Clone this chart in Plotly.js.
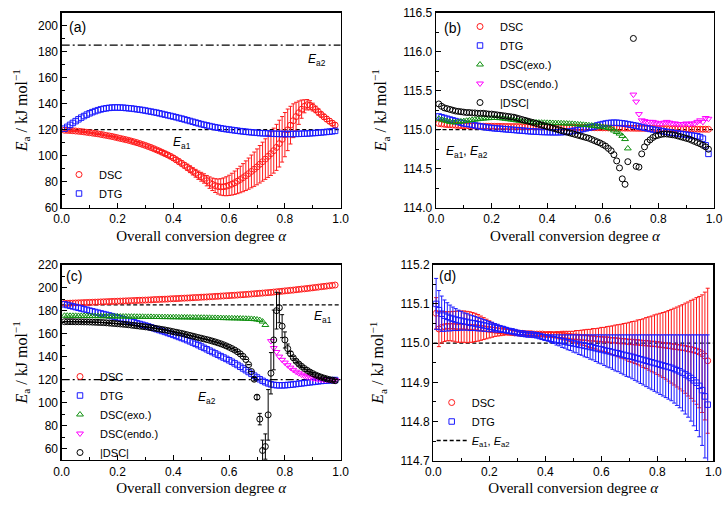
<!DOCTYPE html>
<html><head><meta charset="utf-8">
<script src="https://cdn.plot.ly/plotly-3.0.1.min.js"></script>
<style>html,body{margin:0;padding:0;background:#fff}#chart{width:727px;height:508px}</style>
</head><body><div id="chart"></div>
<script>
// ---------- DATA ----------
const alpha = [0.01,0.02,0.03,0.04,0.05,0.06,0.07,0.08,0.09,0.10,
0.11,0.12,0.13,0.14,0.15,0.16,0.17,0.18,0.19,0.20,
0.21,0.22,0.23,0.24,0.25,0.26,0.27,0.28,0.29,0.30,
0.31,0.32,0.33,0.34,0.35,0.36,0.37,0.38,0.39,0.40,
0.41,0.42,0.43,0.44,0.45,0.46,0.47,0.48,0.49,0.50,
0.51,0.52,0.53,0.54,0.55,0.56,0.57,0.58,0.59,0.60,
0.61,0.62,0.63,0.64,0.65,0.66,0.67,0.68,0.69,0.70,
0.71,0.72,0.73,0.74,0.75,0.76,0.77,0.78,0.79,0.80,
0.81,0.82,0.83,0.84,0.85,0.86,0.87,0.88,0.89,0.90,
0.91,0.92,0.93,0.94,0.95,0.96,0.97,0.98];
const lineX = [0, 1];

// panel (a)
const a_DSC = [119.6,119.5,119.4,119.2,119.0,118.8,118.6,118.3,118.0,117.7,
117.4,117.1,116.8,116.4,116.0,115.6,115.2,114.8,114.3,113.8,
113.3,112.8,112.3,111.8,111.2,110.6,110.0,109.3,108.6,107.9,
107.1,106.3,105.4,104.5,103.6,102.6,101.6,100.6,99.5,98.3,
96.9,95.5,94.1,92.6,91.1,89.6,88.0,86.5,85.0,83.8,
82.5,80.8,79.3,78.0,77.0,76.3,76.0,76.1,76.5,77.2,
78.1,79.2,80.4,81.7,83.1,84.6,86.2,87.9,89.6,91.4,
93.4,95.4,97.4,99.5,101.6,103.9,106.4,109.3,112.6,116.2,
119.9,123.5,126.9,130.1,133.1,135.8,138.0,139.2,138.8,137.4,
135.6,133.6,131.7,129.9,128.2,126.6,125.0,123.5];
const a_DSC_err = [0.5,0.5,0.5,0.5,0.5,0.5,0.5,0.5,0.5,0.5,
0.5,0.5,0.5,0.5,0.5,0.5,0.5,0.5,0.5,0.5,
0.6,0.6,0.7,0.7,0.8,0.8,0.9,0.9,1.0,1.0,
1.1,1.1,1.2,1.2,1.3,1.4,1.5,1.6,1.7,1.8,
1.9,2.0,2.1,2.2,2.4,2.6,2.8,3.0,3.2,3.4,
3.6,4.0,4.4,4.8,5.3,5.8,6.3,6.8,7.3,7.8,
8.4,9.0,9.6,10.2,10.8,11.4,12.0,12.6,13.2,13.8,
14.4,15.0,15.6,16.2,16.8,17.3,17.7,18.0,17.5,17.0,
16.0,14.5,13.0,11.0,9.0,7.0,5.0,4.0,3.5,3.0,
2.5,2.5,2.0,2.0,2.0,2.0,2.0,2.0];
const a_DTG = [120.8,122.2,123.7,125.2,126.6,128.0,129.3,130.5,131.6,132.6,
133.5,134.3,135.0,135.6,136.1,136.5,136.8,137.0,137.1,137.1,
137.0,136.9,136.7,136.5,136.3,136.0,135.7,135.4,135.1,134.7,
134.3,133.9,133.5,133.1,132.6,132.1,131.6,131.1,130.6,130.1,
129.6,129.0,128.5,127.9,127.3,126.7,126.1,125.5,124.9,124.3,
123.8,123.3,122.8,122.3,121.9,121.5,121.1,120.7,120.4,120.1,
119.8,119.5,119.2,118.9,118.7,118.4,118.2,118.0,117.8,117.6,
117.4,117.3,117.2,117.1,117.0,116.9,116.8,116.8,116.7,116.7,
116.7,116.7,116.7,116.8,116.8,116.9,117.0,117.1,117.2,117.4,
117.5,117.7,117.9,118.1,118.3,118.5,118.8,119.1];
const a_Ea1 = 120, a_Ea2 = 185;

// panel (b)
const b_DSC = [115.080,115.075,115.070,115.066,115.063,115.060,115.058,115.055,115.053,115.051,
115.050,115.049,115.048,115.047,115.047,115.046,115.045,115.045,115.044,115.044,
115.043,115.043,115.042,115.042,115.041,115.041,115.040,115.040,115.040,115.039,
115.039,115.038,115.038,115.037,115.037,115.036,115.036,115.035,115.035,115.034,
115.034,115.033,115.033,115.032,115.032,115.031,115.031,115.030,115.030,115.029,
115.029,115.028,115.028,115.027,115.027,115.026,115.026,115.025,115.025,115.024,
115.024,115.023,115.023,115.022,115.022,115.021,115.021,115.020,115.020,115.019,
115.019,115.018,115.018,115.017,115.017,115.016,115.016,115.015,115.015,115.014,
115.014,115.013,115.013,115.012,115.012,115.011,115.011,115.010,115.010,115.009,
115.009,115.008,115.008,115.007,115.007,115.006,115.006,115.005];
const b_DTG = [115.170,115.160,115.150,115.140,115.130,115.120,115.110,115.100,115.090,115.080,
115.075,115.070,115.062,115.055,115.048,115.042,115.036,115.030,115.026,115.022,
115.018,115.015,115.012,115.009,115.006,115.003,115.000,114.997,114.994,114.991,
114.988,114.985,114.982,114.979,114.977,114.975,114.973,114.971,114.970,114.969,
114.968,114.967,114.967,114.967,114.968,114.970,114.973,114.977,114.982,114.988,
114.995,115.002,115.010,115.018,115.026,115.034,115.042,115.055,115.064,115.072,
115.079,115.085,115.088,115.090,115.089,115.086,115.082,115.077,115.071,115.064,
115.057,115.050,115.042,115.034,115.026,115.018,115.010,115.003,114.996,114.990,
114.984,114.978,114.972,114.966,114.961,114.956,114.951,114.946,114.941,114.936,
114.931,114.926,114.921,114.916,114.905,114.885,114.800,114.690];
const b_exo_alpha = alpha.slice(0, 69);
const b_exo = [115.140,115.130,115.120,115.110,115.100,115.095,115.095,115.100,115.105,115.110,
115.115,115.120,115.125,115.130,115.135,115.140,115.143,115.146,115.148,115.150,
115.150,115.150,115.148,115.145,115.140,115.135,115.130,115.125,115.120,115.115,
115.110,115.105,115.100,115.097,115.095,115.093,115.091,115.090,115.089,115.088,
115.087,115.086,115.085,115.084,115.083,115.081,115.079,115.077,115.075,115.072,
115.069,115.066,115.063,115.060,115.057,115.053,115.049,115.045,115.040,115.035,
115.029,115.022,115.014,114.990,114.970,114.950,114.920,114.880,114.760];
const b_endo_alpha = alpha.slice(70);
const b_endo = [115.45,115.36,115.20,115.12,115.11,115.10,115.10,115.10,115.09,115.08,
115.08,115.09,115.10,115.09,115.08,115.08,115.07,115.07,115.07,115.08,
115.07,115.08,115.08,115.10,115.12,115.10,115.15,115.14];
const b_abs = [115.33,115.30,115.28,115.27,115.26,115.25,115.24,115.235,115.23,115.225,
115.22,115.22,115.215,115.215,115.21,115.21,115.21,115.205,115.20,115.20,
115.195,115.19,115.185,115.18,115.175,115.17,115.165,115.16,115.15,115.14,
115.13,115.12,115.11,115.10,115.09,115.08,115.07,115.06,115.05,115.04,
115.03,115.02,115.01,115.00,114.99,114.98,114.97,114.96,114.95,114.94,
114.93,114.92,114.91,114.90,114.89,114.875,114.86,114.845,114.83,114.81,
114.79,114.76,114.73,114.68,114.60,114.51,114.37,114.30,114.59,null,
116.17,114.53,114.52,114.69,114.78,114.84,114.87,114.90,114.92,114.93,
114.94,114.945,114.945,114.94,114.935,114.93,114.92,114.91,114.90,114.89,
114.88,114.865,114.85,114.835,114.82,114.80,114.78,114.75];
const b_Ea = 115.0;

// panel (c)
const c_DSC = [186.3,186.4,186.5,186.6,186.7,186.8,186.9,187.0,187.1,187.2,
187.3,187.4,187.5,187.6,187.7,187.8,187.9,188.0,188.1,188.2,
188.3,188.4,188.5,188.6,188.7,188.8,188.9,189.0,189.1,189.2,
189.3,189.4,189.6,189.7,189.8,189.9,190.0,190.1,190.3,190.4,
190.5,190.6,190.8,190.9,191.0,191.1,191.3,191.4,191.5,191.7,
191.8,191.9,192.1,192.2,192.4,192.5,192.7,192.8,193.0,193.1,
193.3,193.4,193.6,193.8,193.9,194.1,194.3,194.5,194.7,194.9,
195.1,195.3,195.5,195.7,195.9,196.2,196.4,196.7,196.9,197.2,
197.4,197.7,197.9,198.2,198.5,198.8,199.0,199.3,199.6,199.9,
200.2,200.5,200.8,201.1,201.4,201.7,202.0,202.3];
const c_DTG = [185.5,184.9,184.3,183.7,183.1,182.5,181.9,181.3,180.7,180.0,
179.4,178.8,178.2,177.6,177.0,176.4,175.8,175.2,174.6,174.0,
173.3,172.6,171.9,171.2,170.5,169.8,169.1,168.4,167.7,167.0,
166.3,165.5,164.7,163.9,163.1,162.3,161.5,160.6,159.8,158.9,
158.0,157.1,156.2,155.3,154.3,153.3,152.2,151.1,150.0,148.8,
147.6,146.4,145.2,144.0,142.8,141.6,140.4,139.2,138.0,136.8,
135.5,134.1,132.7,131.2,129.7,128.2,126.6,125.0,123.4,121.8,
120.3,118.9,117.7,116.7,115.9,115.4,115.1,115.0,115.0,115.1,
115.3,115.5,115.8,116.1,116.4,116.7,117.0,117.3,117.6,117.9,
118.2,118.5,118.8,119.0,119.2,119.4,119.5,119.6];
const c_exo_alpha = alpha.slice(0, 73);
const c_exo = [175.6,175.6,175.5,175.5,175.5,175.4,175.4,175.4,175.3,175.3,
175.3,175.2,175.2,175.2,175.1,175.1,175.1,175.0,175.0,175.0,
174.9,174.9,174.9,174.8,174.8,174.8,174.7,174.7,174.7,174.6,
174.6,174.6,174.5,174.5,174.5,174.4,174.4,174.4,174.3,174.3,
174.3,174.2,174.2,174.2,174.1,174.1,174.0,174.0,174.0,173.9,
173.9,173.8,173.8,173.7,173.7,173.6,173.6,173.5,173.5,173.4,
173.4,173.3,173.3,173.2,173.1,173.0,172.9,172.8,172.6,172.3,
171.8,170.5,167.5];
const c_endo_alpha = alpha.slice(74);
const c_endo = [153.5,147.5,144.0,140.0,137.2,134.8,132.5,130.4,128.5,126.9,
125.5,124.3,123.3,122.5,121.8,121.2,120.7,120.3,120.0,119.8,
119.7,119.6,119.5,119.5];
const c_abs = [170.4,170.4,170.4,170.4,170.3,170.3,170.3,170.2,170.2,170.1,
170.0,169.9,169.8,169.7,169.6,169.4,169.2,169.0,168.8,168.6,
168.4,168.2,168.0,167.7,167.4,167.1,166.8,166.5,166.2,165.9,
165.6,165.2,164.8,164.4,164.0,163.6,163.2,162.7,162.2,161.7,
161.2,160.7,160.2,159.6,159.0,158.4,157.8,157.2,156.6,156.0,
155.4,154.8,154.2,153.5,152.8,152.0,151.2,150.3,149.3,148.2,
147.0,145.7,144.2,142.4,140.2,137.5,133.0,127.0,120.3,104.7,
85.6,58.3,61.7,89.3,125.5,154.5,180.0,182.5,166.5,154.5,
147.0,142.5,139.0,136.0,133.5,131.5,129.6,128.0,126.5,125.2,
124.0,123.0,122.1,121.3,120.6,120.0,119.5,119.0];
const c_abs_err = [0,0,0,0,0,0,0,0,0,0,
0,0,0,0,0,0,0,0,0,0,
0,0,0,0,0,0,0,0,0,0,
0,0,0,0,0,0,0,0,0,0,
0,0,0,0,0,0,0,0,0,0,
0,0,0,0,0,0,0,0,0,0,
0,0,0,0,0,0,0,0,1.5,2,
5,9,11,22,18,26,16,13,10,7,
4,2,1,1,1,1,1,1,1,1,
1,1,1,1,1,1,1,1];
const c_Ea1 = 185, c_Ea2 = 120;

// panel (d)
const d_DSC = [115.076,115.036,115.040,115.042,115.043,115.043,115.043,115.042,115.042,115.042,
115.042,115.041,115.041,115.040,115.040,115.039,115.038,115.037,115.036,115.035,
115.034,115.033,115.032,115.031,115.030,115.029,115.028,115.027,115.026,115.026,
115.025,115.025,115.024,115.024,115.024,115.023,115.023,115.023,115.023,115.022,
115.022,115.022,115.021,115.021,115.020,115.020,115.019,115.018,115.017,115.016,
115.016,115.015,115.014,115.014,115.013,115.012,115.012,115.011,115.010,115.010,
115.009,115.009,115.008,115.007,115.007,115.006,115.005,115.005,115.004,115.003,
115.003,115.002,115.002,115.001,115.000,115.000,114.999,114.998,114.998,114.997,
114.996,114.995,114.994,114.993,114.992,114.991,114.990,114.989,114.988,114.987,
114.985,114.984,114.982,114.980,114.977,114.973,114.967,114.955];
const d_DSC_err = [0.040,0.045,0.040,0.038,0.037,0.037,0.038,0.039,0.040,0.040,
0.040,0.040,0.039,0.038,0.036,0.034,0.031,0.028,0.025,0.022,
0.019,0.016,0.014,0.012,0.010,0.008,0.007,0.006,0.005,0.004,
0.004,0.003,0.003,0.003,0.003,0.003,0.003,0.004,0.004,0.005,
0.006,0.006,0.007,0.008,0.009,0.010,0.011,0.012,0.013,0.014,
0.016,0.017,0.019,0.020,0.022,0.023,0.025,0.026,0.028,0.030,
0.031,0.033,0.035,0.037,0.039,0.041,0.043,0.045,0.047,0.050,
0.052,0.054,0.057,0.059,0.062,0.065,0.068,0.071,0.074,0.077,
0.080,0.083,0.086,0.090,0.094,0.098,0.102,0.106,0.110,0.115,
0.120,0.125,0.130,0.136,0.142,0.150,0.163,0.185];
const d_DTG = [115.100,115.084,115.075,115.070,115.067,115.064,115.062,115.060,115.058,115.057,
115.055,115.054,115.052,115.051,115.050,115.048,115.047,115.045,115.044,115.042,
115.041,115.039,115.038,115.036,115.035,115.033,115.031,115.030,115.028,115.026,
115.025,115.024,115.023,115.022,115.022,115.021,115.020,115.018,115.016,115.014,
115.013,115.011,115.010,115.008,115.007,115.005,115.004,115.002,115.001,114.999,
114.998,114.996,114.995,114.993,114.992,114.990,114.989,114.987,114.985,114.984,
114.982,114.980,114.979,114.977,114.975,114.974,114.972,114.970,114.968,114.967,
114.965,114.963,114.961,114.959,114.957,114.955,114.953,114.951,114.949,114.947,
114.945,114.943,114.941,114.939,114.937,114.934,114.931,114.928,114.924,114.920,
114.916,114.911,114.905,114.899,114.891,114.880,114.864,114.843];
const d_DTG_err = [0.065,0.050,0.045,0.040,0.036,0.033,0.030,0.028,0.026,0.024,
0.022,0.021,0.020,0.019,0.018,0.017,0.016,0.015,0.014,0.013,
0.012,0.011,0.010,0.009,0.008,0.007,0.006,0.005,0.004,0.004,
0.003,0.003,0.003,0.003,0.003,0.003,0.004,0.005,0.006,0.007,
0.008,0.010,0.011,0.013,0.014,0.016,0.017,0.019,0.020,0.022,
0.023,0.025,0.026,0.028,0.029,0.031,0.032,0.034,0.036,0.037,
0.039,0.041,0.042,0.044,0.046,0.047,0.049,0.051,0.053,0.054,
0.056,0.058,0.060,0.062,0.064,0.066,0.068,0.070,0.072,0.074,
0.076,0.078,0.080,0.082,0.084,0.087,0.090,0.093,0.097,0.101,
0.105,0.110,0.116,0.122,0.130,0.141,0.157,0.178];
const d_Ea = 115.0;

// ---------- STYLE ----------
const RED = '#ff1a1a', BLUE = '#1a1aff', GREEN = '#109010', MAG = '#ff00ff', BLK = '#000000';
const SANS = 'Arial, "Liberation Sans", sans-serif';
const SERIF = '"Times New Roman", "Liberation Serif", serif';
const EaName = '<i>E</i><sub>a1</sub>, <i>E</i><sub>a2</sub>';

function pts(x, y, name, color, symbol, xa, ya, leg, err) {
  const t = {type:'scatter', mode:'markers', x:x, y:y, name:name, xaxis:xa, yaxis:ya, legend:leg,
    marker:{symbol:symbol, size:(symbol.indexOf('square')===0?5.5:6), color:color, line:{width:1, color:color}},
    cliponaxis:true};
  if (err) t.error_y = {type:'data', array:err, visible:true, color:color, thickness:1, width:2};
  return t;
}
function hline(yv, dash, xa, ya, leg, show, name) {
  return {type:'scatter', mode:'lines', x:lineX, y:[yv, yv], xaxis:xa, yaxis:ya, legend:leg,
    showlegend:!!show, name:name||'', line:{color:'#000', width:1.3, dash:dash}};
}
const DASH = '4px,2.5px', DASHDOT = '8px,3px,2px,3px';

const traces = [
  hline(a_Ea1, DASH, 'x', 'y', 'legend'),
  hline(a_Ea2, DASHDOT, 'x', 'y', 'legend'),
  pts(alpha, a_DSC, 'DSC', RED, 'circle-open', 'x', 'y', 'legend', a_DSC_err),
  pts(alpha, a_DTG, 'DTG', BLUE, 'square-open', 'x', 'y', 'legend'),

  hline(b_Ea, DASH, 'x2', 'y2', 'legend2'),
  pts(alpha, b_DSC, 'DSC', RED, 'circle-open', 'x2', 'y2', 'legend2'),
  pts(alpha, b_DTG, 'DTG', BLUE, 'square-open', 'x2', 'y2', 'legend2'),
  pts(b_exo_alpha, b_exo, 'DSC(exo.)', GREEN, 'triangle-up-open', 'x2', 'y2', 'legend2'),
  pts(b_endo_alpha, b_endo, 'DSC(endo.)', MAG, 'triangle-down-open', 'x2', 'y2', 'legend2'),
  pts(alpha, b_abs, '|DSC|', BLK, 'circle-open', 'x2', 'y2', 'legend2'),

  hline(c_Ea1, DASH, 'x3', 'y3', 'legend3'),
  hline(c_Ea2, DASHDOT, 'x3', 'y3', 'legend3'),
  pts(alpha, c_DSC, 'DSC', RED, 'circle-open', 'x3', 'y3', 'legend3'),
  pts(alpha, c_DTG, 'DTG', BLUE, 'square-open', 'x3', 'y3', 'legend3'),
  pts(c_exo_alpha, c_exo, 'DSC(exo.)', GREEN, 'triangle-up-open', 'x3', 'y3', 'legend3'),
  pts(c_endo_alpha, c_endo, 'DSC(endo.)', MAG, 'triangle-down-open', 'x3', 'y3', 'legend3'),
  pts(alpha, c_abs, '|DSC|', BLK, 'circle-open', 'x3', 'y3', 'legend3', c_abs_err),

  Object.assign(hline(d_Ea, DASH, 'x4', 'y4', 'legend4', true, EaName), {legendrank:3000}),
  Object.assign(pts(alpha, d_DSC, 'DSC', RED, 'circle-open', 'x4', 'y4', 'legend4', d_DSC_err), {legendrank:1000}),
  Object.assign(pts(alpha, d_DTG, 'DTG', BLUE, 'square-open', 'x4', 'y4', 'legend4', d_DTG_err), {legendrank:2000})
];

const W = 727, H = 508;
function xd(l, r) { return [l / W, r / W]; }
function yd(t, b) { return [1 - b / H, 1 - t / H]; }

function xax(domain, anchor, tstand) {
  return {domain:domain, anchor:anchor, range:[0, 1], tick0:0, dtick:0.2, tickformat:'.1f',
    ticks:'inside', ticklen:5, tickwidth:1, tickcolor:'#000',
    minor:{ticks:'inside', ticklen:3, dtick:0.1, tickwidth:1, tickcolor:'#000', showgrid:false},
    showline:true, mirror:true, linecolor:'#000', linewidth:1.3, showgrid:false, zeroline:false,
    tickfont:{family:SANS, size:12, color:'#000'},
    title:{text:'Overall conversion degree <i>α</i>', font:{family:SERIF, size:15, color:'#000'}, standoff:tstand}};
}
function yax(domain, anchor, range, dtick, mdtick, fmt, tstand) {
  return {domain:domain, anchor:anchor, range:range, tick0:0, dtick:dtick, tickformat:fmt,
    ticks:'inside', ticklen:5, tickwidth:1, tickcolor:'#000',
    minor:{ticks:'inside', ticklen:3, dtick:mdtick, tickwidth:1, tickcolor:'#000', showgrid:false},
    showline:true, mirror:true, linecolor:'#000', linewidth:1.3, showgrid:false, zeroline:false,
    tickfont:{family:SANS, size:12, color:'#000'},
    title:{text:'<i>E</i><sub>a</sub> / kJ mol<sup>−1</sup>', font:{family:SERIF, size:16, color:'#000'}, standoff:tstand}};
}
function legendAt(xpx, ypx) {
  return {x:xpx / W, y:1 - ypx / H, xanchor:'left', yanchor:'top', bgcolor:'rgba(0,0,0,0)',
    borderwidth:0, font:{family:SANS, size:11, color:'#000'}, tracegroupgap:0, itemwidth:30};
}
function ann(xr, yr, x, y, text, size, anchor) {
  return {xref:xr, yref:yr, x:x, y:y, text:text, showarrow:false, xanchor:anchor||'center', yanchor:'middle',
    font:{family:SANS, size:size, color:'#000'}};
}
const Ea1 = '<i>E</i><sub>a1</sub>', Ea2 = '<i>E</i><sub>a2</sub>';

const layout = {
  width:W, height:H, margin:{l:0, r:0, t:0, b:0}, paper_bgcolor:'#fff', plot_bgcolor:'#fff',
  showlegend:true, hovermode:false,
  xaxis: xax(xd(61.7, 340.7), 'y', 5),
  yaxis: yax(yd(12.7, 207.7), 'x', [60, 210], 20, 10, 'd', 6),
  xaxis2: xax(xd(436, 714), 'y2', 5),
  yaxis2: yax(yd(12.7, 207.7), 'x2', [114, 116.5], 0.5, 0.25, '.1f', 12),
  xaxis3: xax(xd(61.7, 340.7), 'y3', 4),
  yaxis3: yax(yd(264.7, 460), 'x3', [50, 220], 20, 10, 'd', 6),
  xaxis4: xax(xd(433.3, 713.3), 'y4', 4),
  yaxis4: yax(yd(264.7, 460.7), 'x4', [114.7, 115.2], 0.1, 0.05, '.1f', 12),
  legend: legendAt(59, 160),
  legend2: legendAt(460, 12),
  legend3: legendAt(60, 362),
  legend4: legendAt(431.7, 388),
  annotations: [
    ann('x', 'y', 0.018, 199, '(a)', 14, 'left'),
    ann('x', 'y', 0.915, 174, Ea2, 12),
    ann('x', 'y', 0.43, 110, Ea1, 12),
    ann('x2', 'y2', 0.022, 116.31, '(b)', 14, 'left'),
    ann('x2', 'y2', 0.03, 114.71, Ea1 + ', ' + Ea2, 12, 'left'),
    ann('x3', 'y3', 0.01, 210, '(c)', 14, 'left'),
    ann('x3', 'y3', 0.935, 174.5, Ea1, 12),
    ann('x3', 'y3', 0.52, 104, Ea2, 12),
    ann('x4', 'y4', 0.013, 115.171, '(d)', 14, 'left')
  ]
};

Plotly.newPlot('chart', traces, layout, {displayModeBar:false, staticPlot:true});
</script>
</body></html>
